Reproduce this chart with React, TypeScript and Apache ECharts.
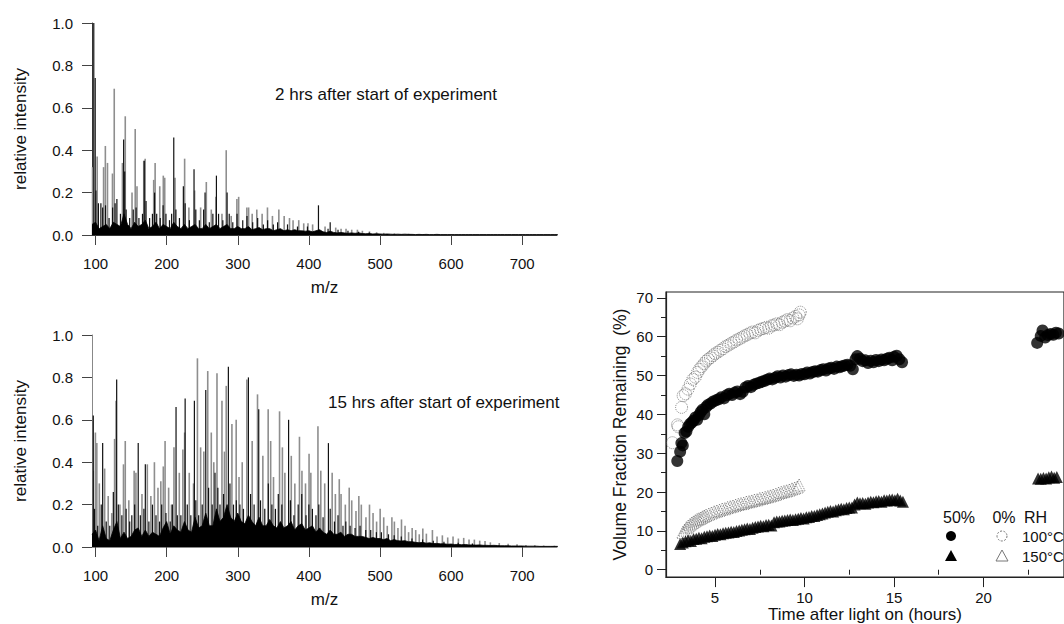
import React, { useEffect, useRef } from "react";
import * as echarts from "echarts";

const FONT = "'Liberation Sans', Arial, Helvetica, sans-serif";

// ---- mass spectra (m/z axis) ----
const MZ_TICKS = [100, 200, 300, 400, 500, 600, 700];
const FLOOR_START = 95;
const FLOOR_STEP = 5;

// 2 hrs spectrum
const TOP_GRAY: number[][] = [
  [95.5, 0.32], [102, 0.37], [111, 0.32], [113.5, 0.42], [116.5, 0.34], [123.5, 0.29], [126, 0.69],
  [137.5, 0.34], [141.5, 0.56], [151, 0.2], [155.5, 0.5], [158, 0.23], [167.5, 0.35], [169.5, 0.36],
  [181.5, 0.26], [183.5, 0.34], [190, 0.23], [195, 0.28], [197, 0.27], [211.5, 0.27], [225, 0.36],
  [231, 0.13], [239, 0.21], [247.5, 0.13], [255.5, 0.25], [262.5, 0.12], [269, 0.18], [277.5, 0.1],
  [283.5, 0.4], [290.5, 0.09], [298.5, 0.17], [301, 0.18], [312.5, 0.13], [315, 0.13], [320, 0.1],
  [326.5, 0.12], [334, 0.1], [341.5, 0.13], [348.5, 0.09], [357.5, 0.12], [365, 0.09], [372.5, 0.08],
  [377.5, 0.07], [385.5, 0.07], [392.5, 0.055], [398.5, 0.055], [405, 0.05], [422.5, 0.04],
  [437.5, 0.035], [445, 0.03], [452, 0.03], [460, 0.025], [468, 0.025], [475, 0.02], [485, 0.017],
  [495, 0.013], [505, 0.01], [520, 0.008], [540, 0.006], [560, 0.005]
];
const TOP_BLACK: number[][] = [
  [97.5, 1.0], [99.5, 0.74], [100.5, 0.21], [104, 0.15], [107.5, 0.15], [110, 0.13], [114, 0.14],
  [119, 0.08], [124, 0.13], [127.5, 0.15], [130, 0.17], [135, 0.1], [139.5, 0.45], [141, 0.3],
  [143, 0.12], [148, 0.08], [153, 0.12], [157, 0.13], [161, 0.08], [166, 0.1], [168.5, 0.35],
  [171, 0.16], [176, 0.08], [180, 0.1], [183, 0.2], [186, 0.1], [191, 0.08], [195, 0.14], [199, 0.1],
  [204, 0.07], [207, 0.1], [210, 0.46], [213, 0.12], [218, 0.08], [223.5, 0.23], [226, 0.15],
  [232, 0.07], [238.5, 0.31], [241, 0.12], [246, 0.07], [252, 0.12], [254, 0.2], [260, 0.06],
  [265, 0.1], [270, 0.28], [273, 0.1], [279, 0.07], [285, 0.2], [288, 0.1], [293, 0.06], [299, 0.1],
  [307, 0.07], [313, 0.09], [321, 0.06], [328, 0.08], [336, 0.05], [342, 0.07], [350, 0.05],
  [356, 0.06], [370, 0.05], [384, 0.04], [398, 0.04], [413.5, 0.14], [427, 0.03], [430, 0.06],
  [441, 0.025], [455, 0.02], [470, 0.015], [485, 0.012]
];
const TOP_FLOOR = [
  0.05, 0.06, 0.03, 0.04, 0.05, 0.03, 0.06, 0.05, 0.04, 0.1,
  0.05, 0.03, 0.06, 0.04, 0.05, 0.07, 0.03, 0.04, 0.06, 0.03,
  0.05, 0.04, 0.03, 0.06, 0.04, 0.03, 0.05, 0.03, 0.04, 0.05,
  0.03, 0.03, 0.05, 0.03, 0.04, 0.05, 0.03, 0.04, 0.05, 0.03,
  0.03, 0.04, 0.03, 0.03, 0.04, 0.025, 0.03, 0.035, 0.025, 0.03,
  0.03, 0.02, 0.025, 0.03, 0.02, 0.025, 0.02, 0.025, 0.02, 0.02,
  0.018, 0.02, 0.015, 0.02, 0.025, 0.015, 0.012, 0.018, 0.012, 0.01,
  0.012, 0.01, 0.008, 0.01, 0.008, 0.01, 0.007, 0.006, 0.007, 0.005,
  0.006, 0.005, 0.004, 0.005, 0.004, 0.003, 0.004, 0.003, 0.004, 0.003,
  0.003, 0.002, 0.003, 0.002, 0.003, 0.002, 0.002, 0.003, 0.002, 0.002,
  0.002, 0.002, 0.002, 0.002, 0.002, 0.002, 0.002, 0.002, 0.002, 0.002,
  0.002, 0.002, 0.002, 0.002, 0.002, 0.002, 0.002, 0.002, 0.002, 0.002,
  0.002, 0.002, 0.002, 0.002, 0.002, 0.002, 0.002, 0.002, 0.002, 0.002,
  0.002, 0.002
];

// 15 hrs spectrum
const BOT_GRAY: number[][] = [
  [96.5, 0.36], [99.5, 0.54], [101.5, 0.49], [105, 0.3], [112.5, 0.37], [117.5, 0.24], [122.5, 0.16],
  [126.5, 0.51], [128.5, 0.69], [134, 0.2], [139, 0.39], [141.5, 0.5], [146.5, 0.22], [154, 0.36],
  [156.5, 0.35], [165, 0.25], [172.5, 0.39], [177.5, 0.24], [182.5, 0.4], [187.5, 0.28], [191.5, 0.31],
  [195, 0.38], [197.5, 0.5], [202.5, 0.28], [206.5, 0.2], [210, 0.47], [217.5, 0.35], [222.5, 0.46],
  [225, 0.54], [231.5, 0.35], [237.5, 0.3], [243, 0.89], [247.5, 0.47], [252, 0.45], [257.5, 0.83],
  [262.5, 0.54], [266, 0.4], [270.5, 0.82], [277.5, 0.69], [281, 0.45], [283.5, 0.76], [291.5, 0.58],
  [297.5, 0.6], [301.5, 0.33], [306, 0.4], [312.5, 0.79], [320, 0.5], [327.5, 0.72], [335, 0.43],
  [342.5, 0.65], [346, 0.5], [350, 0.33], [358.5, 0.64], [362.5, 0.47], [366, 0.35], [375, 0.43],
  [380, 0.3], [386.5, 0.52], [390, 0.36], [395, 0.3], [400, 0.44], [402.5, 0.35], [412.5, 0.57],
  [416.5, 0.36], [422, 0.3], [432.5, 0.35], [437, 0.25], [442.5, 0.32], [445, 0.25], [451, 0.2],
  [456.5, 0.28], [460, 0.22], [466, 0.17], [470, 0.24], [473.5, 0.2], [480, 0.14], [485, 0.2],
  [490, 0.16], [495, 0.12], [500, 0.18], [505, 0.14], [510, 0.1], [516.5, 0.14], [520, 0.12],
  [525, 0.09], [530, 0.13], [535, 0.1], [540, 0.07], [545, 0.09], [550, 0.08], [555, 0.06],
  [560, 0.087], [565, 0.063], [573.5, 0.08], [580, 0.05], [587.5, 0.055], [595, 0.045], [602.5, 0.05],
  [610, 0.04], [617.5, 0.043], [625, 0.035], [632.5, 0.035], [640, 0.03], [647.5, 0.028], [655, 0.022],
  [667.5, 0.019], [680, 0.015], [692.5, 0.013], [705, 0.01], [717.5, 0.008], [730, 0.007], [745, 0.006]
];
const BOT_BLACK: number[][] = [
  [96.8, 0.62], [98.5, 0.18], [103, 0.1], [108, 0.2], [110, 0.49], [115, 0.12], [120, 0.1], [125, 0.26],
  [129.7, 0.79], [132, 0.2], [137, 0.15], [143, 0.18], [148, 0.12], [151, 0.15], [155, 0.2], [160, 0.49],
  [163, 0.15], [168, 0.18], [170, 0.39], [175, 0.12], [180, 0.2], [185, 0.15], [190, 0.12], [193, 0.2],
  [199, 0.16], [205, 0.12], [208, 0.2], [213.2, 0.66], [215, 0.15], [220, 0.15], [226, 0.7], [229, 0.2],
  [234, 0.15], [239, 0.69], [241, 0.22], [245, 0.15], [250, 0.2], [255, 0.74], [259, 0.28], [264, 0.2],
  [268, 0.35], [272, 0.28], [275, 0.2], [280, 0.25], [286.8, 0.85], [289, 0.3], [294, 0.2], [298, 0.22],
  [303, 0.2], [308, 0.18], [315, 0.8], [318, 0.25], [323, 0.2], [329.5, 0.65], [332, 0.22], [338, 0.18],
  [343, 0.3], [348, 0.2], [353, 0.18], [357, 0.25], [362, 0.2], [371.5, 0.6], [374, 0.22], [379, 0.15],
  [385, 0.2], [390, 0.25], [396, 0.15], [400, 0.2], [405, 0.18], [410, 0.15], [414, 0.2], [420, 0.14],
  [427.5, 0.49], [430, 0.18], [436, 0.12], [441, 0.15], [448, 0.1], [452, 0.12], [458, 0.1], [465, 0.09],
  [472, 0.1], [480, 0.08], [487, 0.08], [495, 0.07], [502, 0.07], [512, 0.06], [520, 0.055], [530, 0.05],
  [545, 0.04], [560, 0.035], [575, 0.03], [590, 0.025], [610, 0.02], [630, 0.017]
];
const BOT_FLOOR = [
  0.06, 0.08, 0.03, 0.1, 0.04, 0.03, 0.08, 0.12, 0.04, 0.07,
  0.04, 0.05, 0.08, 0.09, 0.05, 0.08, 0.05, 0.07, 0.06, 0.05,
  0.09, 0.12, 0.06, 0.1, 0.08, 0.07, 0.12, 0.08, 0.07, 0.14,
  0.09, 0.1, 0.16, 0.1, 0.1, 0.18, 0.12, 0.14, 0.2, 0.14,
  0.12, 0.16, 0.12, 0.11, 0.15, 0.12, 0.1, 0.14, 0.1, 0.1,
  0.13, 0.1, 0.09, 0.12, 0.09, 0.1, 0.12, 0.08, 0.1, 0.11,
  0.08, 0.09, 0.1, 0.07, 0.09, 0.07, 0.06, 0.08, 0.06, 0.06,
  0.07, 0.05, 0.06, 0.06, 0.05, 0.05, 0.05, 0.045, 0.04, 0.045,
  0.04, 0.04, 0.035, 0.04, 0.03, 0.035, 0.03, 0.028, 0.03, 0.025,
  0.025, 0.022, 0.02, 0.022, 0.018, 0.02, 0.016, 0.017, 0.015, 0.015,
  0.013, 0.014, 0.012, 0.012, 0.011, 0.012, 0.01, 0.01, 0.009, 0.01,
  0.008, 0.008, 0.007, 0.008, 0.007, 0.006, 0.006, 0.006, 0.005, 0.005,
  0.005, 0.005, 0.004, 0.004, 0.004, 0.004, 0.003, 0.003, 0.003, 0.003,
  0.003, 0.003
];

// ---- volume fraction remaining vs time ----
const TIME_TICKS = [5, 10, 15, 20, 25];
const TIME_MINOR = [7.5, 12.5, 17.5, 22.5];
const VFR_TICKS = [0, 10, 20, 30, 40, 50, 60, 70];
const VFR_MINOR = [5, 15, 25, 35, 45, 55, 65];

const RH50_T100: number[][] = [
  [2.89, 28.0], [3.05, 30.4], [3.12, 32.6], [3.2, 32.0], [3.3, 35.2], [3.4, 35.6], [3.5, 36.8], [3.6, 37.5],
  [3.7, 37.9], [3.8, 38.4], [3.9, 39.2], [4.0, 38.6], [4.1, 39.8], [4.2, 40.6], [4.3, 41.2], [4.4, 40.0],
  [4.5, 41.9], [4.6, 42.4], [4.75, 42.8], [4.9, 43.3], [5.05, 43.6], [5.2, 43.9], [5.35, 44.4], [5.5, 44.1],
  [5.65, 44.9], [5.8, 45.3], [5.95, 45.0], [6.1, 45.6], [6.25, 45.9], [6.4, 45.2], [6.55, 45.8], [6.7, 46.9],
  [6.85, 47.3], [7.0, 47.0], [7.15, 47.6], [7.3, 47.9], [7.45, 48.1], [7.6, 48.4], [7.75, 48.6], [7.9, 48.9],
  [8.05, 49.2], [8.2, 49.0], [8.35, 49.4], [8.5, 49.8], [8.65, 49.5], [8.8, 50.0], [8.95, 49.7], [9.1, 50.1],
  [9.25, 50.3], [9.4, 49.9], [9.55, 50.2], [9.7, 50.0], [9.85, 50.4], [10.0, 50.3], [10.15, 50.8], [10.3, 50.5],
  [10.45, 50.9], [10.6, 51.1], [10.75, 51.0], [10.9, 51.4], [11.05, 51.6], [11.2, 51.3], [11.35, 51.8],
  [11.5, 52.0], [11.65, 51.7], [11.8, 52.3], [11.95, 52.1], [12.1, 52.4], [12.25, 52.6], [12.4, 52.8],
  [12.55, 52.5], [12.7, 51.6], [12.85, 54.2], [12.95, 55.0], [13.1, 54.3], [13.25, 53.7], [13.4, 53.9],
  [13.55, 53.2], [13.7, 53.8], [13.85, 53.4], [14.0, 54.0], [14.15, 53.7], [14.3, 54.1], [14.45, 53.9],
  [14.6, 54.3], [14.75, 54.6], [14.9, 53.9], [15.0, 54.8], [15.15, 55.1], [15.3, 54.2], [15.45, 53.4],
  [23.0, 58.4], [23.2, 60.2], [23.3, 61.6], [23.45, 59.8], [23.6, 60.4], [23.75, 60.7], [23.9, 60.5],
  [24.05, 61.0], [24.2, 60.8]
];
const RH0_T100: number[][] = [
  [2.62, 32.7], [2.9, 37.3], [2.95, 36.8], [3.13, 41.8], [3.22, 44.8], [3.35, 45.3], [3.49, 46.5], [3.62, 47.8],
  [3.76, 49.0], [3.9, 49.6], [4.02, 50.8], [4.13, 51.6], [4.25, 52.3], [4.38, 53.0], [4.5, 53.7], [4.62, 54.2],
  [4.75, 54.6], [4.88, 55.1], [5.0, 55.6], [5.15, 56.0], [5.3, 56.5], [5.45, 56.9], [5.6, 57.5], [5.75, 57.8],
  [5.9, 58.3], [6.05, 58.6], [6.2, 59.1], [6.35, 59.4], [6.5, 59.8], [6.65, 60.2], [6.8, 60.5], [6.95, 60.9],
  [7.1, 61.2], [7.25, 61.0], [7.4, 61.6], [7.55, 61.9], [7.7, 62.1], [7.85, 62.4], [8.0, 62.2], [8.15, 62.8],
  [8.3, 63.0], [8.45, 63.3], [8.6, 63.1], [8.75, 63.7], [8.9, 64.0], [9.05, 64.4], [9.2, 64.1], [9.35, 64.8],
  [9.5, 65.2], [9.6, 64.6], [9.7, 65.6], [9.76, 66.3]
];
const RH50_T150: number[][] = [
  [3.05, 6.6], [3.2, 7.0], [3.35, 7.3], [3.5, 7.6], [3.65, 7.4], [3.8, 7.9], [3.95, 8.0], [4.1, 8.2],
  [4.25, 8.1], [4.4, 8.5], [4.55, 8.6], [4.7, 8.8], [4.85, 8.7], [5.0, 9.0], [5.15, 9.2], [5.3, 9.1],
  [5.45, 9.4], [5.6, 9.5], [5.75, 9.6], [5.9, 9.8], [6.05, 9.7], [6.2, 10.0], [6.35, 10.1], [6.5, 10.3],
  [6.65, 10.4], [6.8, 10.6], [6.95, 10.5], [7.1, 10.8], [7.25, 11.0], [7.4, 11.1], [7.55, 11.3], [7.7, 11.2],
  [7.85, 11.5], [8.0, 11.6], [8.15, 11.4], [8.3, 12.2], [8.45, 12.4], [8.6, 12.4], [8.75, 12.6], [8.9, 12.7],
  [9.05, 12.8], [9.2, 12.9], [9.35, 12.8], [9.5, 13.0], [9.65, 13.1], [9.8, 13.3], [9.95, 13.2], [10.1, 13.5],
  [10.25, 13.6], [10.4, 13.8], [10.55, 13.8], [10.7, 14.1], [10.85, 14.3], [11.0, 14.5], [11.15, 14.7],
  [11.3, 14.9], [11.45, 15.1], [11.6, 15.0], [11.75, 15.3], [11.9, 15.5], [12.05, 15.7], [12.2, 15.6],
  [12.35, 15.9], [12.5, 16.0], [12.65, 16.0], [12.8, 16.8], [12.95, 17.3], [13.1, 17.1], [13.25, 17.2],
  [13.4, 17.0], [13.55, 17.3], [13.7, 17.5], [13.85, 17.4], [14.0, 17.6], [14.15, 17.7], [14.3, 17.5],
  [14.45, 17.9], [14.6, 17.8], [14.75, 18.0], [14.9, 18.1], [15.05, 17.9], [15.2, 18.3], [15.35, 17.8],
  [15.5, 17.5],
  [23.05, 23.5], [23.2, 23.4], [23.35, 23.6], [23.5, 23.5], [23.65, 23.8], [23.8, 24.0], [23.95, 23.7],
  [24.1, 23.9]
];
const RH0_T150: number[][] = [
  [3.2, 9.6], [3.3, 10.2], [3.4, 10.8], [3.5, 11.2], [3.6, 11.6], [3.7, 12.0], [3.8, 12.3], [3.9, 12.6],
  [4.0, 12.9], [4.1, 13.1], [4.2, 13.3], [4.3, 13.6], [4.4, 13.8], [4.5, 14.0], [4.65, 14.3], [4.8, 14.6],
  [4.95, 14.9], [5.1, 15.1], [5.25, 15.3], [5.4, 15.6], [5.55, 15.7], [5.7, 16.0], [5.85, 16.2], [6.0, 16.4],
  [6.15, 16.6], [6.3, 16.8], [6.45, 17.0], [6.6, 17.1], [6.75, 17.4], [6.9, 17.5], [7.05, 17.7], [7.2, 17.9],
  [7.35, 18.0], [7.5, 18.3], [7.65, 18.4], [7.8, 18.6], [7.95, 18.8], [8.1, 19.0], [8.25, 19.2], [8.4, 19.4],
  [8.55, 19.7], [8.7, 19.9], [8.85, 20.1], [9.0, 20.3], [9.15, 20.5], [9.3, 20.8], [9.45, 21.0], [9.6, 21.3],
  [9.7, 21.8]
];

const TEXT = "#111";

function mzAxis(grid: number, lineColor: string) {
  return {
    type: "value", gridIndex: grid, min: 95, max: 749,
    axisLine: { show: true, onZero: false, lineStyle: { color: lineColor, width: 1 } },
    axisTick: { show: true, customValues: MZ_TICKS, length: 10, lineStyle: { color: "#444" } },
    axisLabel: { customValues: MZ_TICKS, margin: 21, fontSize: 15, color: TEXT, fontFamily: FONT },
    splitLine: { show: false },
    name: "m/z", nameLocation: "middle", nameGap: 44,
    nameTextStyle: { fontSize: 17, color: TEXT, fontFamily: FONT },
  };
}
function intAxis(grid: number, lineColor: string) {
  return {
    type: "value", gridIndex: grid, min: 0, max: 1, interval: 0.2,
    axisLine: { show: true, lineStyle: { color: lineColor, width: 1 } },
    axisTick: { show: true, length: 10, lineStyle: { color: "#444" } },
    axisLabel: { margin: 19, fontSize: 15, color: TEXT, fontFamily: FONT, formatter: (v: number) => v.toFixed(1) },
    splitLine: { show: false },
    name: "relative intensity", nameLocation: "middle", nameGap: 63, nameRotate: 90,
    nameTextStyle: { fontSize: 17, color: TEXT, fontFamily: FONT },
  };
}
function spectrum(grid: number, gray: number[][], black: number[][], floor: number[]) {
  return [
    {
      type: "bar", xAxisIndex: grid, yAxisIndex: grid, data: gray, barWidth: 1.6, barGap: "-100%",
      itemStyle: { color: "#8e8e8e" }, silent: true,
    },
    {
      type: "line", xAxisIndex: grid, yAxisIndex: grid, symbol: "none", silent: true,
      data: floor.map((v, i) => [FLOOR_START + i * FLOOR_STEP, v]),
      lineStyle: { color: "#000", width: 0.8 }, areaStyle: { color: "#000", opacity: 1 },
    },
    {
      type: "bar", xAxisIndex: grid, yAxisIndex: grid, data: black, barWidth: 1.2, barGap: "-100%",
      itemStyle: { color: "#111" }, silent: true,
    },
  ];
}

export default function App() {
  const ref = useRef<HTMLDivElement>(null);
  useEffect(() => {
    document.body.style.margin = "0";
    const chart = echarts.init(ref.current!, null, { renderer: "svg" });
    const symStyleOpen = { color: "rgba(0,0,0,0)", borderColor: "#666", borderWidth: 1, borderType: "dotted" };
    chart.setOption({
      animation: false,
      backgroundColor: "#fff",
      textStyle: { fontFamily: FONT },
      grid: [
        { left: 92, top: 23, width: 465, height: 212 },
        { left: 92, top: 335, width: 465, height: 212 },
        { left: 666, top: 292, width: 408, height: 287, show: true, borderColor: "#222", borderWidth: 1.2, backgroundColor: "rgba(0,0,0,0)" },
      ],
      xAxis: [
        mzAxis(0, "#333"),
        mzAxis(1, "#888"),
        {
          type: "value", gridIndex: 2, min: 2.26, max: 24.5, position: "bottom",
          axisLine: { show: true, onZero: false, lineStyle: { color: "#222", width: 1.2 } },
          axisTick: { show: true, customValues: TIME_TICKS, length: 10, lineStyle: { color: "#222" } },
          axisLabel: { customValues: TIME_TICKS, margin: 13, fontSize: 15, color: TEXT, fontFamily: FONT },
          splitLine: { show: false },
          name: "Time after light on (hours)", nameLocation: "middle", nameGap: 27,
          nameTextStyle: { fontSize: 17, color: TEXT, fontFamily: FONT },
        },
        {
          type: "value", gridIndex: 2, min: 2.26, max: 24.5, position: "bottom", offset: 0,
          axisLine: { show: false },
          axisTick: { show: true, customValues: TIME_MINOR, length: 5, lineStyle: { color: "#222" } },
          axisLabel: { show: false }, splitLine: { show: false },
        },
      ],
      yAxis: [
        intAxis(0, "#333"),
        intAxis(1, "#888"),
        {
          type: "value", gridIndex: 2, min: -1.9, max: 71.5, position: "left",
          axisLine: { show: true, onZero: false, lineStyle: { color: "#222", width: 1.2 } },
          axisTick: { show: true, customValues: VFR_TICKS, length: 9, lineStyle: { color: "#222" } },
          axisLabel: { customValues: VFR_TICKS, margin: 13, fontSize: 15, color: TEXT, fontFamily: FONT },
          splitLine: { show: false },
          name: "Volume Fraction Remaining  (%)", nameLocation: "middle", nameGap: 37, nameRotate: 90,
          nameTextStyle: { fontSize: 17.5, color: TEXT, fontFamily: FONT },
        },
        {
          type: "value", gridIndex: 2, min: -1.9, max: 71.5, position: "left", offset: 0,
          axisLine: { show: false },
          axisTick: { show: true, customValues: VFR_MINOR, length: 5, lineStyle: { color: "#222" } },
          axisLabel: { show: false }, splitLine: { show: false },
        },
      ],
      series: [
        ...spectrum(0, TOP_GRAY, TOP_BLACK, TOP_FLOOR),
        ...spectrum(1, BOT_GRAY, BOT_BLACK, BOT_FLOOR),
        {
          type: "scatter", xAxisIndex: 2, yAxisIndex: 2, data: RH0_T100, symbol: "circle", symbolSize: 12,
          itemStyle: symStyleOpen, silent: true,
        },
        {
          type: "scatter", xAxisIndex: 2, yAxisIndex: 2, data: RH0_T150, symbol: "triangle", symbolSize: 12,
          itemStyle: symStyleOpen, silent: true,
        },
        {
          type: "scatter", xAxisIndex: 2, yAxisIndex: 2, data: RH50_T100, symbol: "circle", symbolSize: 12,
          itemStyle: { color: "#000" }, silent: true,
        },
        {
          type: "scatter", xAxisIndex: 2, yAxisIndex: 2, data: RH50_T150, symbol: "triangle", symbolSize: 12,
          itemStyle: { color: "#000" }, silent: true,
        },
      ],
      graphic: [
        { type: "text", left: 275, top: 86, style: { text: "2 hrs after start of experiment", fontSize: 17, fill: TEXT, fontFamily: FONT } },
        { type: "text", left: 328, top: 394, style: { text: "15 hrs after start of experiment", fontSize: 17, fill: TEXT, fontFamily: FONT } },
        { type: "text", x: 959, y: 517, style: { text: "50%", fontSize: 16, fill: TEXT, fontFamily: FONT, align: "center", verticalAlign: "middle" } },
        { type: "text", x: 1004, y: 517, style: { text: "0%", fontSize: 16, fill: TEXT, fontFamily: FONT, align: "center", verticalAlign: "middle" } },
        { type: "text", x: 1024, y: 517, style: { text: "RH", fontSize: 16, fill: TEXT, fontFamily: FONT, align: "left", verticalAlign: "middle" } },
        { type: "text", x: 1022, y: 536, style: { text: "100°C", fontSize: 15, fill: TEXT, fontFamily: FONT, align: "left", verticalAlign: "middle" } },
        { type: "text", x: 1022, y: 556, style: { text: "150°C", fontSize: 15, fill: TEXT, fontFamily: FONT, align: "left", verticalAlign: "middle" } },
        { type: "circle", shape: { cx: 951, cy: 536, r: 5 }, style: { fill: "#000" } },
        { type: "circle", shape: { cx: 1002, cy: 536, r: 5 }, style: { fill: "none", stroke: "#777", lineWidth: 1, lineDash: [2, 1.5] } },
        { type: "polygon", shape: { points: [[945, 561], [957, 561], [951, 550]] }, style: { fill: "#000" } },
        { type: "polygon", shape: { points: [[996, 561], [1008, 561], [1002, 550]] }, style: { fill: "none", stroke: "#777", lineWidth: 1 } },
      ],
    });
    return () => chart.dispose();
  }, []);
  return <div ref={ref} style={{ width: 1064, height: 624 }} />;
}
